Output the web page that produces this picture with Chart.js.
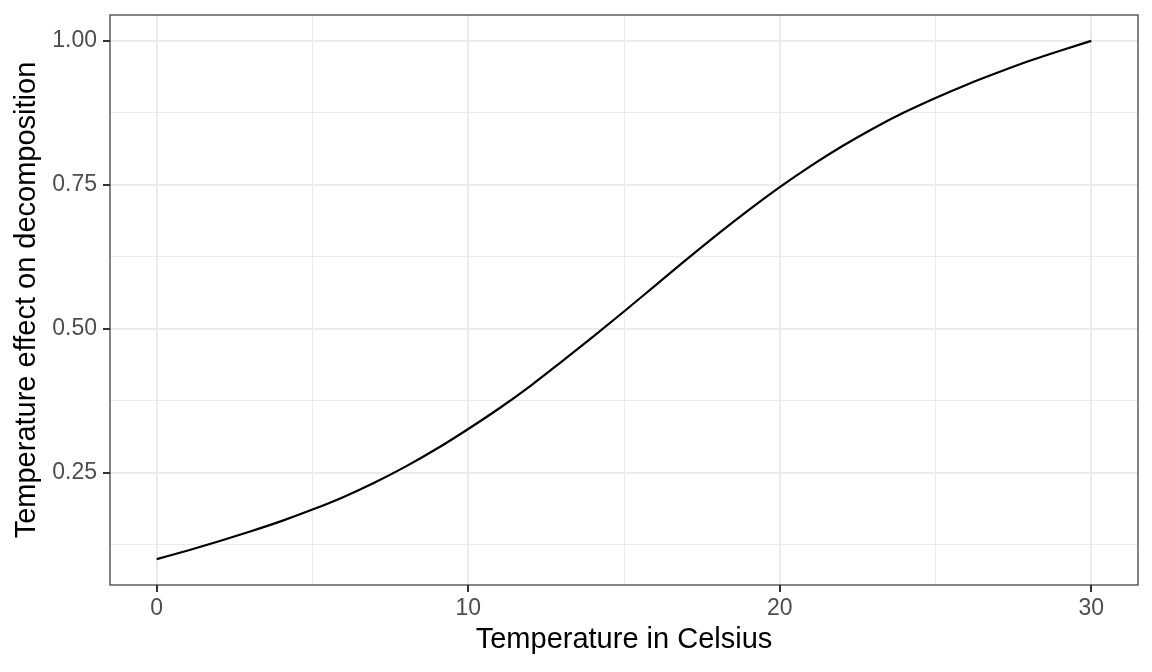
<!DOCTYPE html>
<html>
<head>
<meta charset="utf-8">
<script src="https://cdn.jsdelivr.net/npm/chart.js@4"></script>
<style>
  body { margin: 0; background: #fff; }
  #wrap { width: 1152px; height: 672px; }
</style>
</head>
<body>
<div id="wrap"><canvas id="chart"></canvas></div>
<script>
// temperature (C) and its effect on decomposition
const temps = [0, 1, 2, 3, 4, 5, 6, 7, 8, 9, 10, 11, 12, 13, 14, 15,
  16, 17, 18, 19, 20, 21, 22, 23, 24, 25, 26, 27, 28, 29, 30]
const effects = [0.100, 0.115, 0.131, 0.148, 0.166, 0.186, 0.208, 0.233, 0.261, 0.292,
  0.326, 0.362, 0.401, 0.443, 0.486, 0.530, 0.575, 0.620, 0.664, 0.706,
  0.746, 0.783, 0.817, 0.848, 0.876, 0.901, 0.924, 0.945, 0.965, 0.983, 1.000]

const xMajor = [0, 10, 20, 30]
const xMinor = [5, 15, 25]
const yMajor = [0.25, 0.50, 0.75, 1.00]
const yMinor = [0.125, 0.375, 0.625, 0.875]

const font = "'Liberation Sans', Arial, Helvetica, sans-serif"

function tickList(major, minor) {
  return major.concat(minor).sort((a, b) => a - b).map(v => ({value: v, major: major.includes(v)}))
}

// ggplot-style panel border
const panelBorder = {
  id: "panelBorder",
  afterDraw(c) {
    const {ctx, chartArea: a} = c
    ctx.save()
    ctx.strokeStyle = "#333333"
    ctx.lineWidth = 1.2
    ctx.strokeRect(a.left, a.top, a.right - a.left, a.bottom - a.top)
    ctx.restore()
  }
}

const gridFor = () => ({
  color: "#EBEBEB",
  lineWidth: c => (c.tick && c.tick.major ? 2 : 1),
  tickColor: c => (c.tick && c.tick.major ? "#333333" : "rgba(0,0,0,0)"),
  tickLength: 7,
  tickWidth: 2
})

const chart = new Chart("chart", {
  type: "line",
  data: {
    datasets: [{
      data: temps.map((t, i) => ({x: t, y: effects[i]})),
      borderColor: "#000000",
      borderWidth: 2.2,
      pointRadius: 0,
      cubicInterpolationMode: "monotone",
      fill: false
    }]
  },
  plugins: [panelBorder],
  options: {
    responsive: true,
    maintainAspectRatio: false,
    animation: false,
    layout: {padding: {top: 15, right: 14, left: 0, bottom: 0}},
    plugins: {
      legend: {display: false},
      tooltip: {enabled: false}
    },
    scales: {
      x: {
        type: "linear",
        min: -1.5,
        max: 31.5,
        afterBuildTicks: s => { s.ticks = tickList(xMajor, xMinor) },
        afterFit: s => {
          s.height = 87
          s.paddingLeft = 0
          s.paddingRight = 0
        },
        grid: gridFor(),
        border: {display: false},
        ticks: {
          autoSkip: false,
          maxRotation: 0,
          padding: 3,
          color: "#4D4D4D",
          font: {family: font, size: 23},
          callback: v => (xMajor.includes(v) ? String(v) : "")
        },
        title: {
          display: true,
          text: "Temperature in Celsius",
          color: "#000000",
          font: {family: font, size: 29, lineHeight: 1.2},
          padding: {top: 0, bottom: 14.6}
        }
      },
      y: {
        type: "linear",
        min: 0.055,
        max: 1.045,
        afterBuildTicks: s => { s.ticks = tickList(yMajor, yMinor) },
        afterFit: s => {
          s.width = 110
          s.paddingTop = 0
          s.paddingBottom = 0
        },
        grid: gridFor(),
        border: {display: false},
        ticks: {
          autoSkip: false,
          padding: 6,
          color: "#4D4D4D",
          font: {family: font, size: 23},
          callback: v => (yMajor.includes(v) ? v.toFixed(2) : "")
        },
        title: {
          display: true,
          text: "Temperature effect on decomposition",
          color: "#000000",
          font: {family: font, size: 29, lineHeight: 1.2},
          padding: {top: 9.3, bottom: 0}
        }
      }
    }
  }
})
</script>
</body>
</html>
